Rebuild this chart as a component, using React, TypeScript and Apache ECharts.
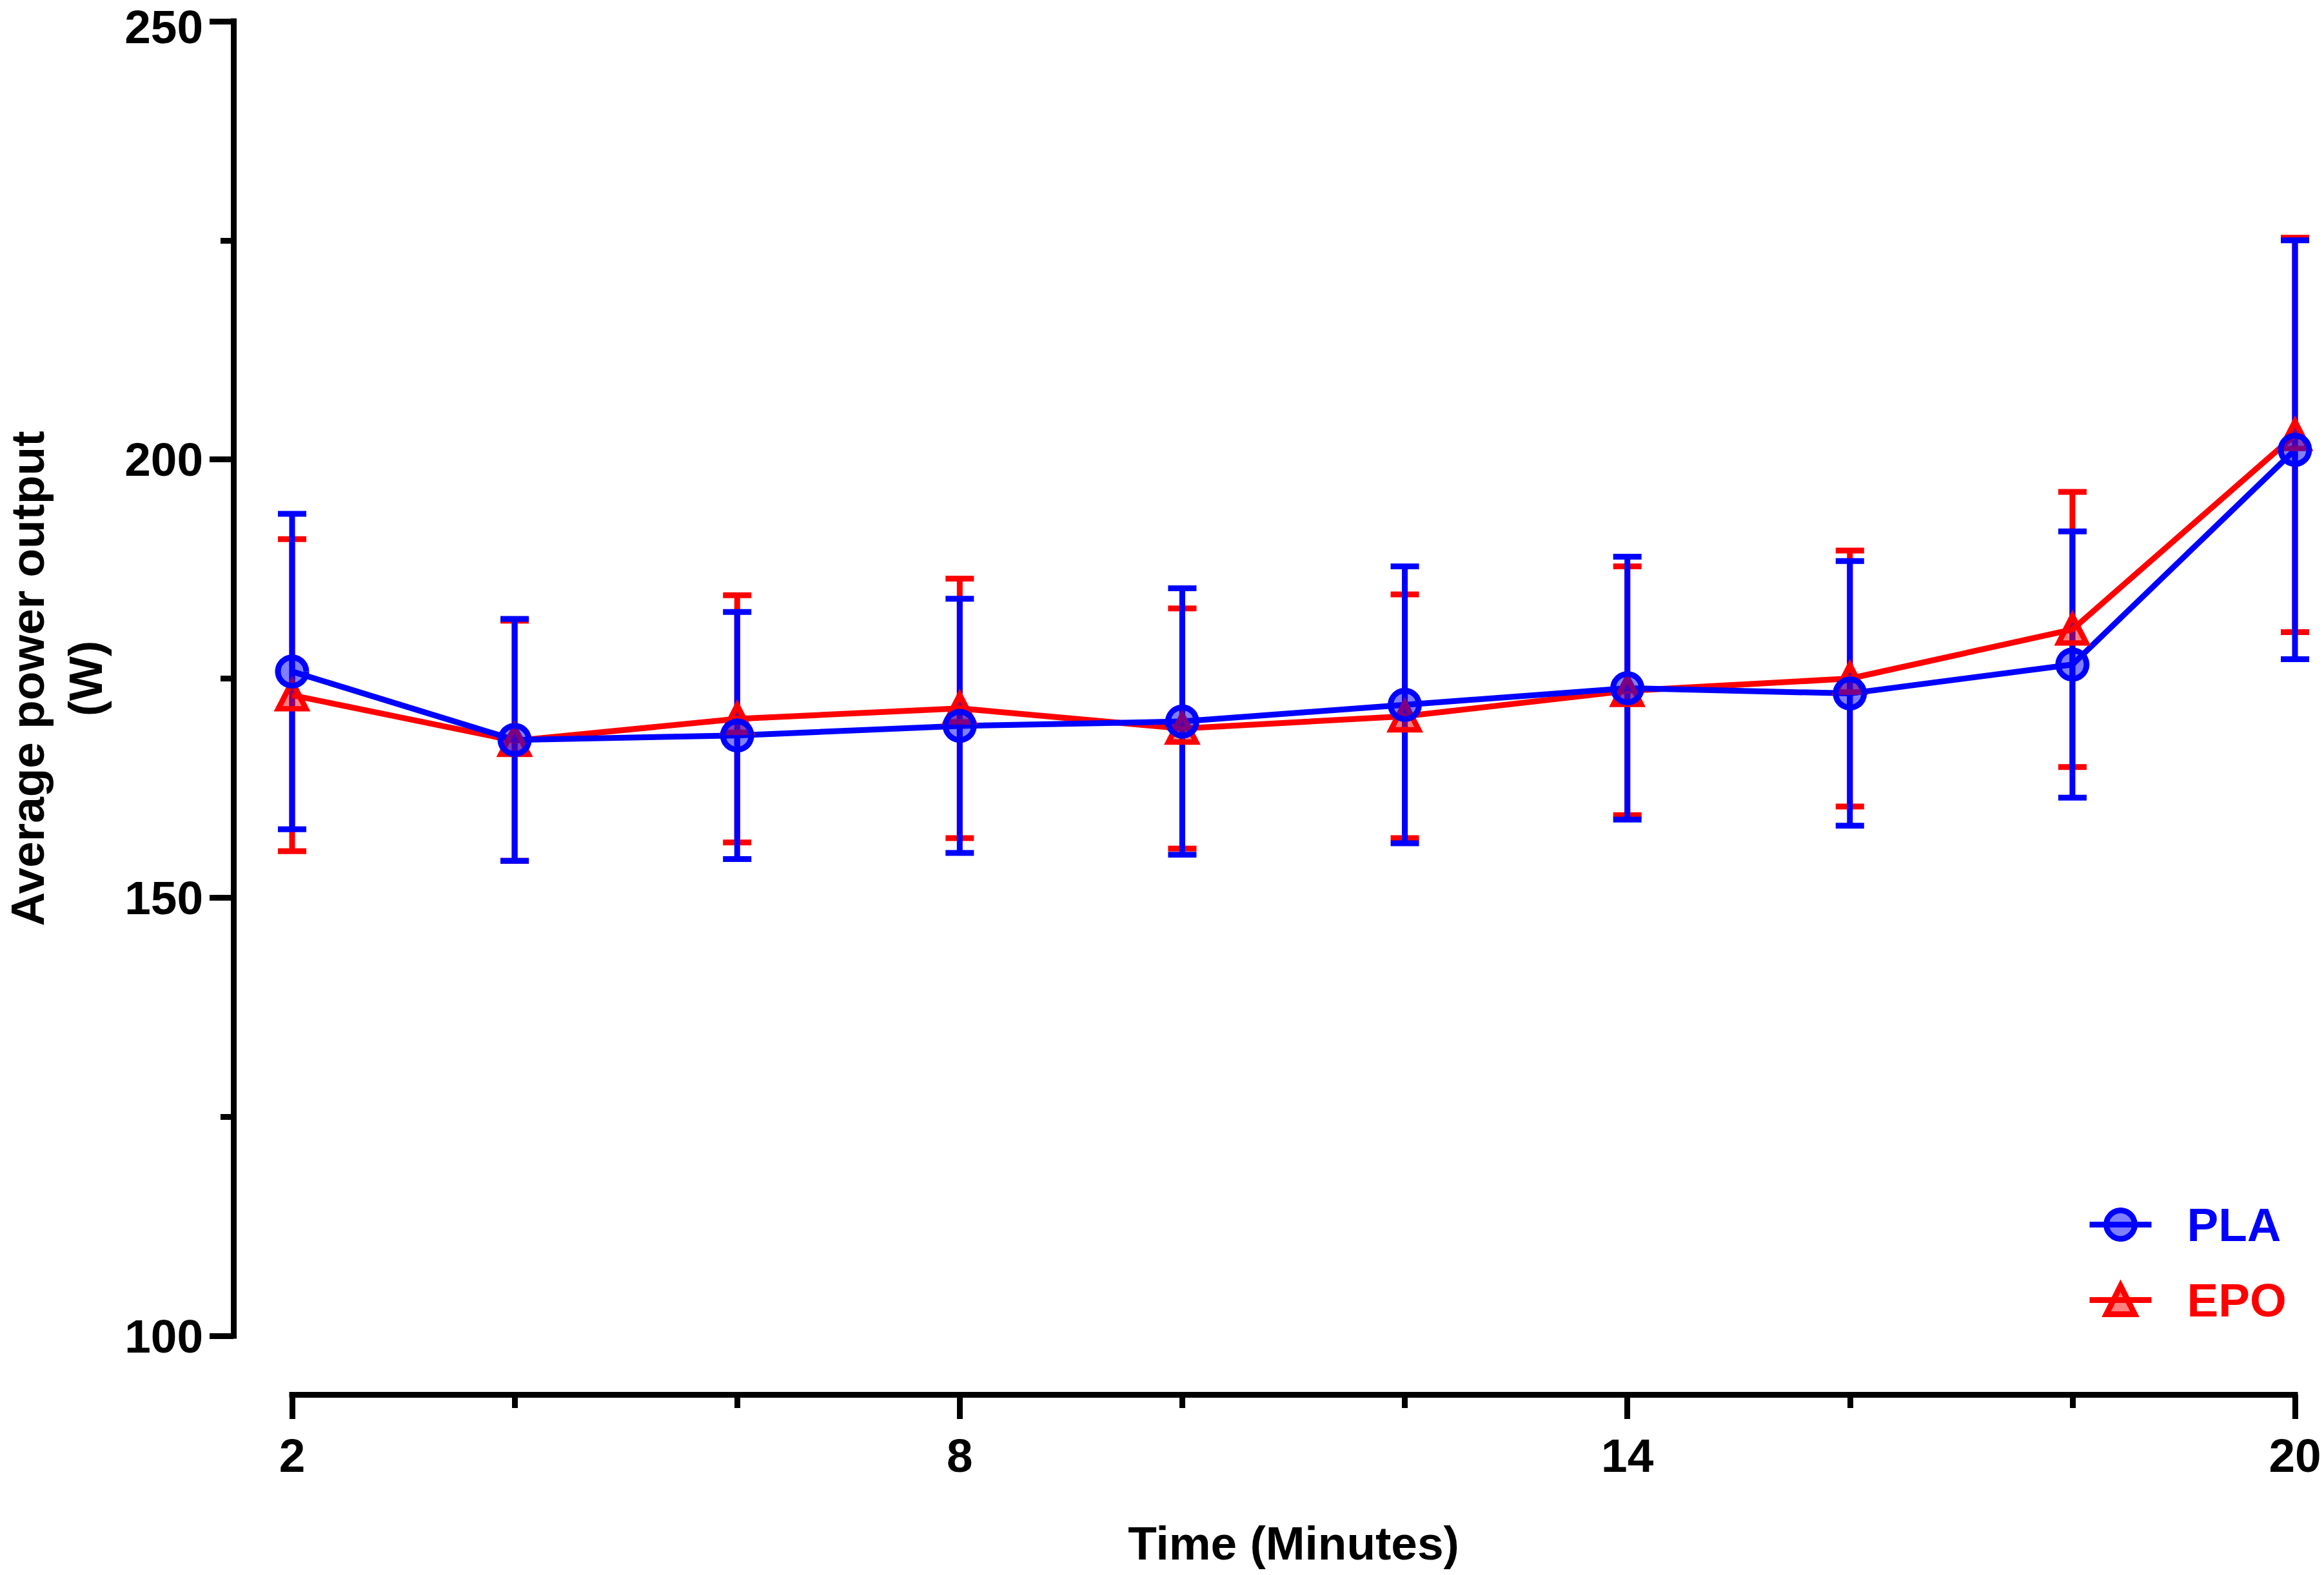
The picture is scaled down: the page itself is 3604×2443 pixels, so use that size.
import React, { useEffect, useRef } from 'react';
import * as echarts from 'echarts';

const times = ['2', '4', '6', '8', '10', '12', '14', '16', '18', '20'];
const labelledTimes = ['2', '8', '14', '20'];
const plaMean = [175.8, 168.0, 168.5, 169.6, 170.1, 172.0, 173.9, 173.3, 176.6, 201.1];
const plaSD = [18.0, 13.8, 14.1, 14.5, 15.2, 15.8, 15.0, 15.1, 15.2, 23.9];
const epoMean = [173.1, 167.9, 170.4, 171.6, 169.3, 170.7, 173.6, 175.0, 180.6, 202.8];
const epoSD = [17.8, 13.7, 14.1, 14.8, 13.7, 13.9, 14.2, 14.6, 15.7, 22.5];
const yMin = 100;
const yMax = 250;
const yStep = 50;

const FONT = "'Liberation Sans', Arial, Helvetica, sans-serif";
const BLUE = '#0000ff';
const RED = '#ff0000';
const FS = 73;

function errorSeries(name: string, mean: number[], sd: number[], color: string) {
  return {
    type: 'custom',
    name,
    silent: true,
    data: times.map((t, i) => [t, mean[i] - sd[i], mean[i] + sd[i]]),
    encode: { x: 0, y: [1, 2] },
    renderItem: (params: any, api: any) => {
      const i = api.value(0);
      const lo = api.coord([i, api.value(1)]);
      const hi = api.coord([i, api.value(2)]);
      const hw = 22;
      const style = { stroke: color, lineWidth: 9, fill: 'none' };
      return {
        type: 'group',
        children: [
          { type: 'line', shape: { x1: lo[0], y1: lo[1], x2: hi[0], y2: hi[1] }, style },
          { type: 'line', shape: { x1: lo[0] - hw, y1: lo[1], x2: lo[0] + hw, y2: lo[1] }, style },
          { type: 'line', shape: { x1: hi[0] - hw, y1: hi[1], x2: hi[0] + hw, y2: hi[1] }, style },
        ],
      };
    },
  };
}

export default function App() {
  const ref = useRef<HTMLDivElement>(null);
  useEffect(() => {
    if (!ref.current) return;
    const chart = echarts.init(ref.current, null, { renderer: 'svg' });
    const axisLineStyle = { color: '#000', width: 9, cap: 'square' };
    const labelStyle = { color: '#000', fontSize: FS, fontWeight: 'bold', fontFamily: FONT };
    chart.setOption({
      animation: false,
      backgroundColor: '#fff',
      grid: {
        left: 453,
        right: 45,
        top: 33,
        bottom: 371,
        containLabel: false,
        outerBoundsMode: 'none',
      },
      xAxis: [
        {
          type: 'category',
          data: times,
          boundaryGap: false,
          position: 'bottom',
          offset: 91,
          axisLine: { show: true, lineStyle: axisLineStyle },
          axisTick: { show: true, length: 21, interval: 0, lineStyle: { color: '#000', width: 9 } },
          axisLabel: { show: false },
          splitLine: { show: false },
        },
        {
          type: 'category',
          data: times,
          boundaryGap: false,
          position: 'bottom',
          offset: 91,
          axisLine: { show: false },
          axisTick: {
            show: true,
            length: 38,
            interval: (idx: number, v: string) => labelledTimes.includes(v),
            lineStyle: { color: '#000', width: 9 },
          },
          axisLabel: {
            show: true,
            interval: (idx: number, v: string) => labelledTimes.includes(v),
            margin: 58,
            ...labelStyle,
          },
          splitLine: { show: false },
          name: 'Time (Minutes)',
          nameLocation: 'middle',
          nameGap: 194,
          nameTextStyle: labelStyle,
        },
      ],
      yAxis: {
        type: 'value',
        min: yMin,
        max: yMax,
        interval: yStep,
        offset: 91,
        axisLine: { show: true, lineStyle: axisLineStyle },
        axisTick: { show: true, length: 37, lineStyle: { color: '#000', width: 9 } },
        minorTick: { show: true, splitNumber: 2, length: 20, lineStyle: { color: '#000', width: 9 } },
        axisLabel: {
          margin: 47,
          ...labelStyle,
          formatter: (v: number) => (v === yMax ? `{top|${v}}` : `${v}`),
          rich: { top: { ...labelStyle, padding: [16, 0, 0, 0] } },
        },
        splitLine: { show: false },
        minorSplitLine: { show: false },
        name: 'Average power output\n(W)',
        nameLocation: 'middle',
        nameRotate: 90,
        nameGap: 185,
        nameTextStyle: { ...labelStyle, lineHeight: 90 },
      },
      legend: {
        orient: 'vertical',
        left: 3236,
        top: 1863,
        padding: 0,
        itemGap: 44,
        itemWidth: 96,
        itemHeight: 55,
        selectedMode: false,
        itemStyle: { borderWidth: 9, borderJoin: 'miter' },
        lineStyle: { width: 9 },
        data: [
          { name: 'PLA', textStyle: { color: BLUE } },
          { name: 'EPO', textStyle: { color: RED } },
        ],
        textStyle: { fontSize: FS, fontWeight: 'bold', fontFamily: FONT, padding: [0, 0, 0, 50] },
      },
      series: [
        errorSeries('EPO SD', epoMean, epoSD, RED),
        {
          type: 'line',
          name: 'EPO',
          data: epoMean,
          symbol: 'triangle',
          symbolSize: [43, 42],
          lineStyle: { color: RED, width: 9 },
          itemStyle: {
            color: 'rgba(255,0,0,0.5)',
            borderColor: RED,
            borderWidth: 8.5,
            borderJoin: 'miter',
            borderMiterLimit: 10,
          },
        },
        errorSeries('PLA SD', plaMean, plaSD, BLUE),
        {
          type: 'line',
          name: 'PLA',
          data: plaMean,
          symbol: 'circle',
          symbolSize: 44,
          lineStyle: { color: BLUE, width: 9 },
          itemStyle: { color: 'rgba(0,0,255,0.5)', borderColor: BLUE, borderWidth: 9 },
        },
      ],
    });
    return () => chart.dispose();
  }, []);
  return (
    <div
      ref={ref}
      style={{ position: 'absolute', left: 0, top: 0, width: 3604, height: 2443, background: '#fff' }}
    />
  );
}
